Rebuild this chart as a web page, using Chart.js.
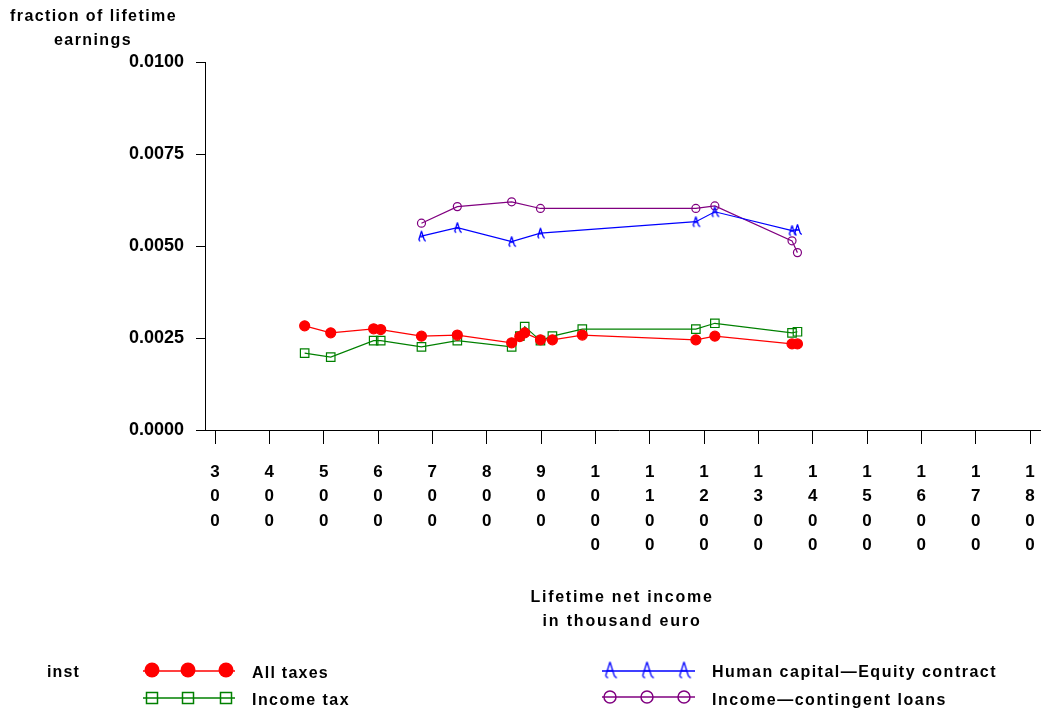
<!DOCTYPE html>
<html>
<head>
<meta charset="utf-8">
<script src="https://cdn.jsdelivr.net/npm/chart.js@4.4.1/dist/chart.umd.min.js"></script>
<style>
html,body{margin:0;padding:0;background:#fff;}
#wrap{width:1041px;height:715px;}
</style>
</head>
<body>
<div id="wrap"><canvas id="c" width="1041" height="715"></canvas></div>
<script>
// ---- data (lifetime net income in thousand euro, fraction of lifetime earnings) ----
const taxIncome = [465, 513, 592, 605, 680, 746, 846, 861, 870, 899, 921, 976, 1185, 1220, 1362, 1372];
const allTaxes  = [0.00283, 0.00264, 0.00275, 0.00273, 0.00255, 0.00258, 0.00237, 0.00254, 0.00264, 0.00245, 0.00245, 0.00258, 0.00245, 0.00255, 0.00234, 0.00234];
const incomeTax = [0.00209, 0.00198, 0.00243, 0.00243, 0.00226, 0.00243, 0.00226, 0.00255, 0.00281, 0.00243, 0.00255, 0.00274, 0.00274, 0.00290, 0.00264, 0.00267];
const contractIncome = [680, 746, 846, 899, 1185, 1220, 1362, 1372];
const equityContract = [0.00527, 0.00550, 0.00512, 0.00535, 0.00566, 0.00593, 0.00542, 0.00545];
const contingentLoans = [0.00562, 0.00607, 0.00620, 0.00602, 0.00602, 0.00609, 0.00514, 0.00482];
const xTickValues = [300, 400, 500, 600, 700, 800, 900, 1000, 1100, 1200, 1300, 1400, 1500, 1600, 1700, 1800];
const yTickValues = [0, 0.0025, 0.005, 0.0075, 0.01];
const seriesNames = ['All taxes', 'Income tax', 'Human capital\u2014Equity contract', 'Income\u2014contingent loans'];

const FONT = '"Liberation Sans", Arial, sans-serif';
// target pixel layout of the x axis (first / last tick, axis end)
const X_FIRST_PX = 215, X_LAST_PX = 1030, AXIS_END_PX = 1040;

function pts(xs, ys){ return xs.map((x,i)=>({x:x, y:ys[i]})); }

// custom "A"-like marker for the equity contract series
function makeAMarker(r, color){
  const c = document.createElement('canvas');
  const s = Math.ceil(2*r+3);
  c.width = s; c.height = s;
  const g = c.getContext('2d');
  const cx = s/2, cy = s/2;
  g.strokeStyle = color; g.lineWidth = 1.3;
  g.beginPath();
  g.moveTo(cx, cy - r); g.lineTo(cx - r*0.55, cy + r*0.75);
  g.moveTo(cx, cy - r); g.lineTo(cx + r*0.55, cy + r*0.75);
  g.moveTo(cx - r*0.55, cy + r*0.75); g.lineTo(cx - r*0.25, cy + r);
  g.moveTo(cx + r*0.55, cy + r*0.75); g.lineTo(cx + r*0.85, cy + r);
  g.moveTo(cx - r*0.35, cy + r*0.1); g.lineTo(cx + r*0.35, cy + r*0.1);
  g.stroke();
  return c;
}
const aMarkerPlot = makeAMarker(5, '#0000ff');
const aMarkerLegend = makeAMarker(8, '#0000ff');

function fitText(ctx, text, x, y, width, font, align){
  ctx.font = font;
  ctx.letterSpacing = '0px';
  const w = ctx.measureText(text).width;
  const ls = (width - w) / text.length;
  ctx.letterSpacing = ls + 'px';
  ctx.textBaseline = 'middle';
  ctx.textAlign = 'left';
  const left = align === 'center' ? x - width/2 : x;
  ctx.fillText(text, left, y);
  ctx.letterSpacing = '0px';
}

const decor = {
  id: 'decor',
  afterDraw(chart){
    const ctx = chart.ctx;
    ctx.save();
    // extend the x axis line to the right edge like the original
    const a = chart.chartArea;
    if (a.right < AXIS_END_PX) {
      ctx.strokeStyle = '#000'; ctx.lineWidth = 1;
      ctx.beginPath(); ctx.moveTo(a.right - 1, a.bottom + 0.5); ctx.lineTo(AXIS_END_PX + 1, a.bottom + 0.5); ctx.stroke();
    }
    ctx.fillStyle = '#000';
    const bf = 'bold 16px ' + FONT;
    fitText(ctx, 'fraction of lifetime', 10, 17, 167, bf);
    fitText(ctx, 'earnings', 54, 41, 78, bf);
    fitText(ctx, 'Lifetime net income', 622, 598, 183, bf, 'center');
    fitText(ctx, 'in thousand euro', 622, 622, 159, bf, 'center');
    fitText(ctx, 'inst', 47, 673, 33, bf);

    // legend
    const lx1 = [143, 235], mk1 = [152, 188, 226];
    const lx2 = [602, 695], mk2 = [610, 647, 684];
    ctx.lineWidth = 1.5;
    ctx.strokeStyle = '#ff0000'; ctx.fillStyle = '#ff0000';
    ctx.beginPath(); ctx.moveTo(lx1[0], 671); ctx.lineTo(lx1[1], 671); ctx.stroke();
    mk1.forEach(x=>{ ctx.beginPath(); ctx.arc(x, 670, 7.5, 0, Math.PI*2); ctx.fill(); });
    ctx.strokeStyle = '#008000';
    ctx.beginPath(); ctx.moveTo(lx1[0], 698); ctx.lineTo(lx1[1], 698); ctx.stroke();
    mk1.forEach(x=>{ ctx.strokeRect(x-5.5, 692.5, 11, 11); });
    ctx.strokeStyle = '#0000ff';
    ctx.beginPath(); ctx.moveTo(lx2[0], 671); ctx.lineTo(lx2[1], 671); ctx.stroke();
    mk2.forEach(x=>{ ctx.drawImage(aMarkerLegend, x - aMarkerLegend.width/2, 670 - aMarkerLegend.height/2); });
    ctx.strokeStyle = '#800080';
    ctx.beginPath(); ctx.moveTo(lx2[0], 697); ctx.lineTo(lx2[1], 697); ctx.stroke();
    mk2.forEach(x=>{ ctx.beginPath(); ctx.arc(x, 697, 6, 0, Math.PI*2); ctx.stroke(); });

    ctx.fillStyle = '#000';
    fitText(ctx, seriesNames[0], 252, 674, 77, bf);
    fitText(ctx, seriesNames[1], 252, 701, 98, bf);
    fitText(ctx, seriesNames[2], 712, 673, 285, bf);
    fitText(ctx, seriesNames[3], 712, 701, 235, bf);
    ctx.restore();
  }
};

const lineDs = (label, data, color, style, radius, fill) => ({
  label, data,
  borderColor: color, backgroundColor: fill ? color : 'rgba(0,0,0,0)',
  borderWidth: 1.2,
  pointStyle: style, pointRadius: radius, pointHoverRadius: radius,
  pointBorderColor: color, pointBackgroundColor: fill ? color : 'rgba(0,0,0,0)',
  pointBorderWidth: 1.2,
  tension: 0, fill: false
});

const chart = new Chart(document.getElementById('c'), {
  type: 'line',
  data: {
    datasets: [
      lineDs(seriesNames[0], pts(taxIncome, allTaxes), '#ff0000', 'circle', 5, true),
      lineDs(seriesNames[1], pts(taxIncome, incomeTax), '#008000', 'rect', 6, false),
      lineDs(seriesNames[2], pts(contractIncome, equityContract), '#0000ff', aMarkerPlot, 5, false),
      lineDs(seriesNames[3], pts(contractIncome, contingentLoans), '#800080', 'circle', 4, false)
    ]
  },
  options: {
    responsive: false,
    animation: false,
    events: [],
    layout: { padding: { left: 0, top: 62, right: 1, bottom: 0 } },
    plugins: { legend: { display: false }, tooltip: { enabled: false }, title: { display: false } },
    scales: {
      x: {
        type: 'linear',
        min: 282, max: 1818,
        afterBuildTicks: s => { s.ticks = xTickValues.map(v => ({ value: v })); },
        afterFit: s => { s.height = 715 - 430; s.paddingLeft = 0; s.paddingRight = 0; },
        border: { display: true, color: '#000', width: 1 },
        grid: { drawOnChartArea: false, drawTicks: true, tickLength: 14, color: '#000', lineWidth: 1 },
        ticks: {
          autoSkip: false, maxRotation: 0, minRotation: 0,
          padding: 16, color: '#000',
          font: { family: FONT, size: 17, weight: 'bold', lineHeight: 24.5/17 },
          callback: v => String(v).split('')
        }
      },
      y: {
        type: 'linear',
        min: 0, max: 0.01,
        afterBuildTicks: s => { s.ticks = yTickValues.map(v => ({ value: v })); },
        afterFit: s => { s.width = 205; s.paddingTop = 0; s.paddingBottom = 0; },
        border: { display: true, color: '#000', width: 1 },
        grid: { drawOnChartArea: false, drawTicks: true, tickLength: 9, color: '#000', lineWidth: 1 },
        ticks: {
          padding: 12, color: '#000',
          font: { family: FONT, size: 18, weight: 'bold' },
          callback: v => Number(v).toFixed(4)
        }
      }
    }
  },
  plugins: [decor]
});

// align the x scale so the first/last ticks sit where the original has them
(function alignX(){
  const a = chart.chartArea;
  const first = xTickValues[0], last = xTickValues[xTickValues.length - 1];
  const perUnit = (X_LAST_PX - X_FIRST_PX) / (last - first);
  const min = first - (X_FIRST_PX - a.left) / perUnit;
  const max = min + (a.right - a.left) / perUnit;
  chart.options.scales.x.min = min;
  chart.options.scales.x.max = max;
  chart.update('none');
})();
</script>
</body>
</html>
